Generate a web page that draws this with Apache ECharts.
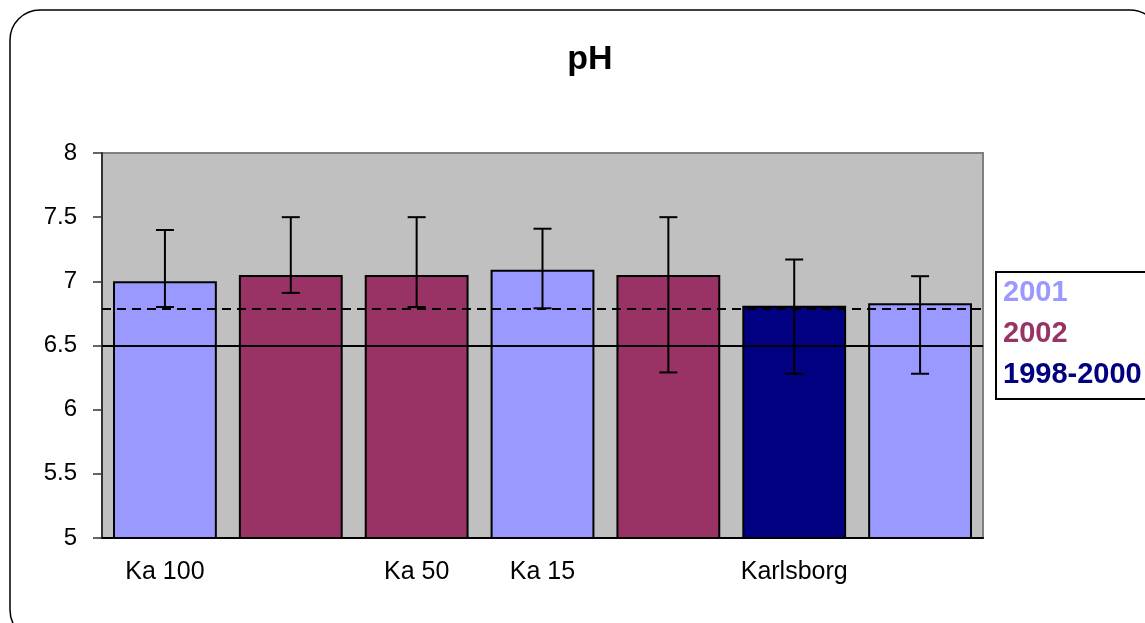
<!DOCTYPE html>
<html>
<head>
<meta charset="utf-8">
<title>pH</title>
<script src="https://cdn.jsdelivr.net/npm/echarts@6/dist/echarts.min.js"></script>
<style>
  html, body { margin: 0; padding: 0; background: #ffffff; }
  #chart { width: 1145px; height: 623px; }
</style>
</head>
<body>
<div id="chart"></div>
<script>
// Sampling stations along the x axis (unlabelled slots are repeat samplings)
const categories = ['Ka 100', '', 'Ka 50', 'Ka 15', '', 'Karlsborg', ''];
// Sampling period of each bar
const periods = ['2001', '2002', '2002', '2001', '2002', '1998-2000', '2001'];
// Mean pH per bar
const meanPH = [7.0, 7.05, 7.05, 7.09, 7.05, 6.81, 6.83];
// Lowest and highest measured pH per bar (error bars)
const lowPH = [6.8, 6.91, 6.8, 6.79, 6.29, 6.28, 6.28];
const highPH = [7.4, 7.5, 7.5, 7.41, 7.5, 7.17, 7.04];
// Reference levels drawn across the plot
const limitPH = 6.5;
const referencePH = 6.79;
// Value axis range and step
const yMin = 5, yMax = 8, yStep = 0.5;

const legendNames = ['2001', '2002', '1998-2000'];
const periodColors = { '2001': '#9999FF', '2002': '#993366', '1998-2000': '#000080' };
const FONT = 'Liberation Sans, Arial, Helvetica, sans-serif';

const chart = echarts.init(document.getElementById('chart'), null, { renderer: 'canvas' });

// One bar series per period; each carries only its own bars, all overlapping in the same slot
const barSeries = legendNames.map(name => ({
  name: name,
  type: 'bar',
  barGap: '-100%',
  barCategoryGap: '17.5%',
  itemStyle: { color: periodColors[name], borderColor: '#000000', borderWidth: 2 },
  emphasis: { disabled: true },
  data: meanPH.map((v, i) => (periods[i] === name ? v : null)),
  z: 2
}));

// Horizontal reference lines, hung on the first bar series
barSeries[0].markLine = {
  silent: true,
  symbol: 'none',
  label: { show: false },
  z: 3,
  data: [
    { yAxis: limitPH, lineStyle: { color: '#000000', width: 2, type: 'solid' } },
    { yAxis: referencePH, lineStyle: { color: '#000000', width: 2, type: [9, 6] } }
  ]
};

const errorSeries = {
  name: 'range',
  type: 'custom',
  z: 5,
  silent: true,
  data: categories.map((c, i) => [i, lowPH[i], highPH[i]]),
  renderItem: function (params, api) {
    const lo = api.coord([api.value(0), api.value(1)]);
    const hi = api.coord([api.value(0), api.value(2)]);
    const cap = 9;
    const style = { stroke: '#000000', lineWidth: 2, fill: null };
    return {
      type: 'group',
      children: [
        { type: 'line', shape: { x1: hi[0], y1: hi[1], x2: lo[0], y2: lo[1] }, style: style },
        { type: 'line', shape: { x1: hi[0] - cap, y1: hi[1], x2: hi[0] + cap, y2: hi[1] }, style: style },
        { type: 'line', shape: { x1: lo[0] - cap, y1: lo[1], x2: lo[0] + cap, y2: lo[1] }, style: style }
      ]
    };
  }
};

const option = {
  animation: false,
  backgroundColor: '#ffffff',
  title: {
    text: 'pH',
    left: 585,
    top: 38,
    textAlign: 'center',
    textStyle: { fontFamily: FONT, fontSize: 34, fontWeight: 'bold', color: '#000000' }
  },
  legend: {
    orient: 'vertical',
    left: 996,
    top: 272,
    icon: 'none',
    itemWidth: 0,
    itemHeight: 10,
    itemGap: 9,
    padding: [5, 30, 8, 2],
    borderColor: '#000000',
    borderWidth: 2,
    selectedMode: false,
    textStyle: { fontFamily: FONT, fontSize: 29, fontWeight: 'bold', lineHeight: 32 },
    data: legendNames.map(n => ({ name: n, textStyle: { color: periodColors[n] } }))
  },
  grid: {
    left: 102,
    top: 153,
    width: 881,
    height: 385,
    show: true,
    backgroundColor: '#C0C0C0',
    borderColor: '#808080',
    borderWidth: 2
  },
  xAxis: {
    type: 'category',
    data: categories,
    axisLine: { lineStyle: { color: '#000000', width: 2 } },
    axisTick: { show: false },
    axisLabel: { interval: 0, margin: 22, fontFamily: FONT, fontSize: 25, color: '#000000' },
    splitLine: { show: false }
  },
  yAxis: {
    type: 'value',
    min: yMin,
    max: yMax,
    interval: yStep,
    axisLine: { show: true, lineStyle: { color: '#333333', width: 2 } },
    axisTick: { show: true, length: 9, lineStyle: { color: '#333333', width: 1.5 } },
    axisLabel: { margin: 25, fontFamily: FONT, fontSize: 24, color: '#000000' },
    splitLine: { show: false }
  },
  graphic: [
    {
      type: 'rect',
      silent: true,
      z: 100,
      shape: { x: 10, y: 10, width: 1150, height: 630, r: 30 },
      style: { fill: null, stroke: '#000000', lineWidth: 1.5 }
    }
  ],
  series: barSeries.concat([errorSeries])
};

chart.setOption(option);
</script>
</body>
</html>
